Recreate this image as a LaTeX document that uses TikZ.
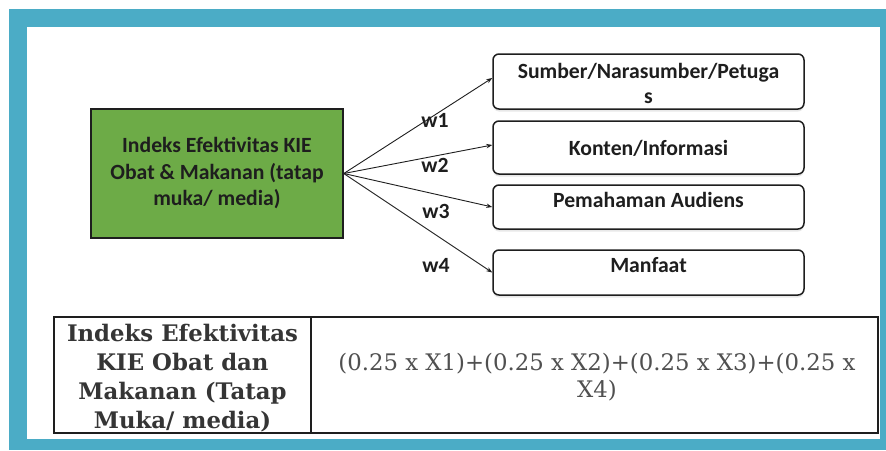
\documentclass[tikz,border=0pt]{standalone}
\usepackage{fontspec}
\setmainfont{Carlito}
\newfontfamily\slabfont{DejaVu Serif}
\usetikzlibrary{arrows.meta,shadows}
\definecolor{teal}{HTML}{4BACC6}
\definecolor{boxgreen}{HTML}{6DAB47}
\definecolor{ink}{HTML}{1E1E1E}
\definecolor{formulagray}{HTML}{505050}
\tikzset{
  dia/.style={font=\bfseries\fontsize{21.7}{26.5}\selectfont, text=ink},
  mainbox/.style={draw=ink, line width=1.6pt, fill=boxgreen, minimum width=252pt, minimum height=129pt, align=center, inner sep=0pt, dia},
  itembox/.style={draw=ink, line width=1.5pt, fill=white, rounded corners=6pt, minimum width=311pt, inner sep=0pt,
     drop shadow={opacity=0.18, shadow xshift=0pt, shadow yshift=-2.5pt}},
  itemtext/.style={dia, anchor=base, inner sep=0pt},
  wlabel/.style={dia, anchor=base, inner sep=0pt},
  weight/.style={draw=ink, line width=0.9pt, -{Stealth[length=6pt,width=4.5pt]}},
  cell/.style={draw=ink, line width=1.6pt, inner sep=0pt},
}
\begin{document}
\begin{tikzpicture}[x=1pt,y=-1pt]
\useasboundingbox (0,0) rectangle (886,450);
\fill[white] (0,0) rectangle (886,450);
\fill[teal] (9,9) rectangle (886,450);
\fill[white] (27,27) rectangle (880,439);

% main box
\node[mainbox] (main) at (217,173.5) {Indeks Efektivitas KIE\\Obat \& Makanan (tatap\\muka/ media)};

% item boxes
\node[itembox, minimum height=55pt] (b1) at (648.5,81.5) {};
\node[itembox, minimum height=53pt] (b2) at (648.5,147.5) {};
\node[itembox, minimum height=44pt] (b3) at (648.5,207) {};
\node[itembox, minimum height=45pt] (b4) at (648.5,272.5) {};

\node[itemtext] (t1a) at (648.5,78) {Sumber/Narasumber/Petuga};
\node[itemtext] (t1b) at (648.5,103) {s};
\node[itemtext] (t2) at (648.5,155) {Konten/Informasi};
\node[itemtext] (t3) at (648.5,207) {Pemahaman Audiens};
\node[itemtext] (t4) at (648.5,272) {Manfaat};

% arrows
\draw[weight] (main.east) -- ([yshift=3.5pt]b1.west);
\draw[weight] (main.east) -- ([yshift=2.5pt]b2.west);
\draw[weight] (main.east) -- (b3.west);
\draw[weight] (main.east) -- (b4.west);

\node[wlabel] (w1) at (435,127) {w1};
\node[wlabel] (w2) at (435,172) {w2};
\node[wlabel] (w3) at (436,218) {w3};
\node[wlabel] (w4) at (436,272) {w4};

% table
\node[cell, minimum width=257pt, minimum height=116pt] (c1) at (182.5,375) {};
\node[cell, minimum width=567pt, minimum height=116pt] (c2) at (594.5,375) {};
\node[align=center, inner sep=0pt, text=ink!90!white, font=\slabfont\bfseries\fontsize{22.8}{29}\selectfont] (lt) at (182.5,378)
  {Indeks Efektivitas\\KIE Obat dan\\Makanan (Tatap\\Muka/ media)};
\node[align=center, inner sep=0pt, text=formulagray, font=\slabfont\fontsize{22.8}{27}\selectfont] (rt) at (597,377)
  {(0.25 x X1)+(0.25 x X2)+(0.25 x X3)+(0.25 x\\X4)};
\end{tikzpicture}
\end{document}
